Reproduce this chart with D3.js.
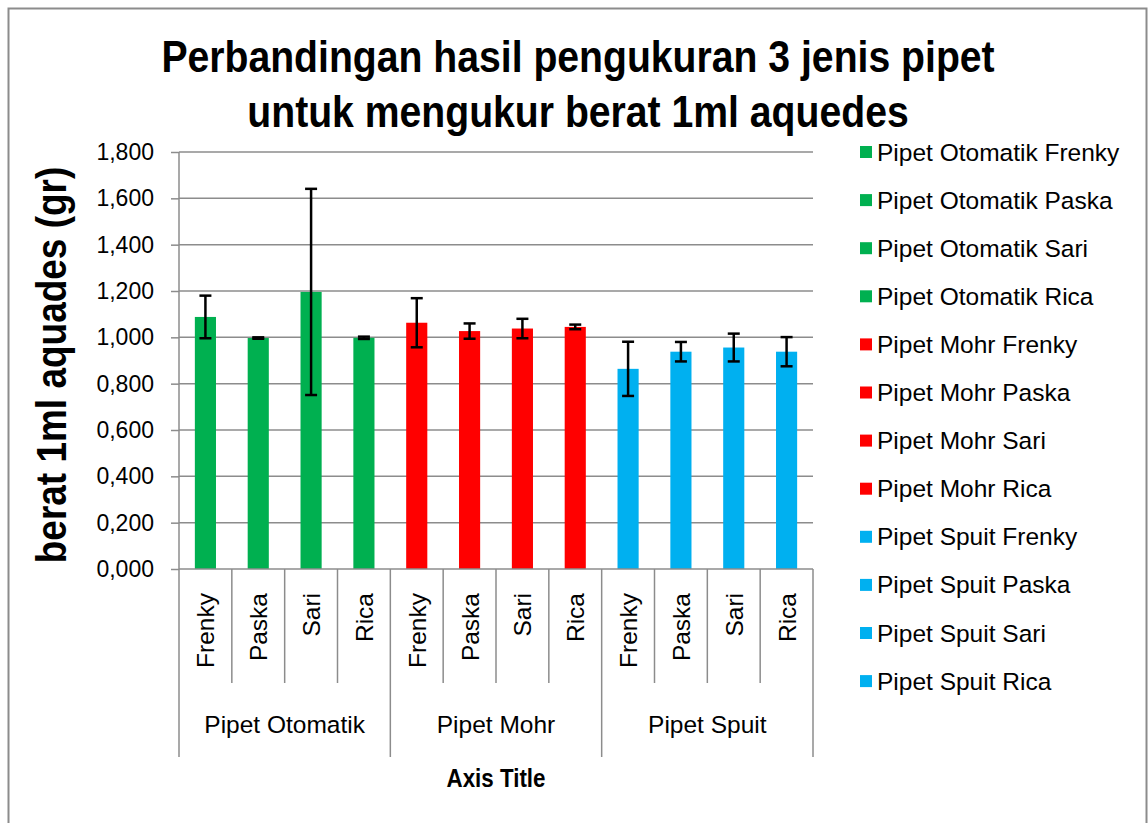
<!DOCTYPE html>
<html>
<head>
<meta charset="utf-8">
<script src="https://cdn.jsdelivr.net/npm/d3@7"></script>
<style>
  body { margin: 0; background: #fff; }
  text { font-family: "Liberation Sans", Arial, sans-serif; }
</style>
</head>
<body>
<div id="chart"></div>
<script>
// data
const groups = ['Pipet Otomatik', 'Pipet Mohr', 'Pipet Spuit']
const people = ['Frenky', 'Paska', 'Sari', 'Rica']
const groupColors = ['#00b050', '#ff0000', '#00b0f0']
const means = [
  [1.088, 0.997, 1.196, 0.998],
  [1.063, 1.027, 1.038, 1.045],
  [0.864, 0.938, 0.956, 0.938]
]
const errs = [
  [0.092, 0.003, 0.445, 0.005],
  [0.106, 0.033, 0.042, 0.010],
  [0.117, 0.042, 0.060, 0.063]
]
const yTicks = [0, 0.2, 0.4, 0.6, 0.8, 1.0, 1.2, 1.4, 1.6, 1.8]

const W = 1148, H = 823
const margin = {top: 152, left: 179, right: 335, bottom: 254}
const width = W - margin.left - margin.right,
      height = H - margin.top - margin.bottom

const svg = d3.select('#chart').append('svg')
  .attr('width', W).attr('height', H)

// chart border
svg.append('rect')
  .attr('x', 8.5).attr('y', 8.5)
  .attr('width', 1138).attr('height', 830)
  .attr('fill', 'none').attr('stroke', '#8c8c8c').attr('stroke-width', 2)

// title (narrow bold look: squeeze horizontally)
svg.append('g').attr('transform', 'translate(578,0) scale(0.88,1)')
  .append('text')
  .attr('text-anchor', 'middle')
  .style('font-weight', 'bold').style('font-size', '44.5px')
  .selectAll('tspan')
  .data(['Perbandingan hasil pengukuran 3 jenis pipet', 'untuk mengukur berat 1ml aquedes'])
  .enter().append('tspan')
    .attr('x', 0)
    .attr('y', (d, i) => 72 + i * 55)
    .text(d => d)

const rows = []
groups.forEach((g, gi) => people.forEach((p, pi) => {
  rows.push({key: g + '|' + p, group: g, name: p, value: means[gi][pi], err: errs[gi][pi]})
}))

const g = svg.append('g').attr('transform', `translate(${margin.left},${margin.top})`)

const x = d3.scaleBand().domain(rows.map(d => d.key)).range([0, width]).paddingInner(0.6).paddingOuter(0.3)
const y = d3.scaleLinear().domain([0, 1.8]).range([height, 0])
const color = d3.scaleOrdinal().domain(groups).range(groupColors)
const fmtTick = v => {
  const s = v.toFixed(3).split('.')
  return s[0] + ',' + s[1]
}

// gridlines
g.append('g')
  .selectAll('line').data(yTicks.slice(1)).enter().append('line')
    .attr('x1', 0).attr('x2', width)
    .attr('y1', d => y(d)).attr('y2', d => y(d))
    .attr('stroke', '#8c8c8c').attr('stroke-width', 1.5)

// y axis
const yAxis = g.append('g')
  .call(d3.axisLeft(y).tickValues(yTicks).tickSize(8).tickPadding(17).tickFormat(fmtTick))
yAxis.select('.domain').attr('stroke', '#8c8c8c').attr('stroke-width', 1.5).attr('d', `M0,0V${height}`)
yAxis.selectAll('.tick line').attr('stroke', '#8c8c8c').attr('stroke-width', 1.5)
yAxis.selectAll('.tick text').style('font-size', '23px').attr('fill', '#000')
  .style('font-family', '"Liberation Sans", Arial, sans-serif')

// bars
g.selectAll('.bar').data(rows).enter().append('rect')
  .attr('x', d => x(d.key))
  .attr('y', d => y(d.value))
  .attr('width', x.bandwidth())
  .attr('height', d => height - y(d.value))
  .attr('fill', d => color(d.group))

// error bars
const eb = g.selectAll('.err').data(rows).enter().append('g')
  .attr('stroke', '#000').attr('stroke-width', 2.5)
eb.append('line')
  .attr('x1', d => x(d.key) + x.bandwidth() / 2).attr('x2', d => x(d.key) + x.bandwidth() / 2)
  .attr('y1', d => y(d.value + d.err)).attr('y2', d => y(d.value - d.err))
eb.selectAll('.cap').data(d => [d.value + d.err, d.value - d.err].map(v => ({d: d, v: v})))
  .enter().append('line')
    .attr('x1', c => x(c.d.key) + x.bandwidth() / 2 - 6)
    .attr('x2', c => x(c.d.key) + x.bandwidth() / 2 + 6)
    .attr('y1', c => y(c.v)).attr('y2', c => y(c.v))

// category axis (two levels)
const cat = g.append('g').attr('transform', `translate(0,${height})`)
cat.append('line').attr('x1', 0).attr('x2', width).attr('y1', 0).attr('y2', 0)
  .attr('stroke', '#8c8c8c').attr('stroke-width', 1.5)
// dividers between categories
d3.range(rows.length + 1).forEach(i => {
  const xp = i * width / rows.length
  const major = i % people.length === 0
  cat.append('line')
    .attr('x1', xp).attr('x2', xp).attr('y1', 0).attr('y2', major ? 188 : 114)
    .attr('stroke', '#8c8c8c').attr('stroke-width', 1.5)
})
cat.selectAll('.catlab').data(rows).enter().append('text')
  .attr('transform', d => `translate(${x(d.key) + x.bandwidth() / 2 + 9},24) rotate(-90)`)
  .attr('text-anchor', 'end')
  .style('font-size', '24.5px')
  .text(d => d.name)
cat.selectAll('.grplab').data(groups).enter().append('text')
  .attr('x', (d, i) => (i + 0.5) * width / groups.length)
  .attr('y', 164)
  .attr('text-anchor', 'middle')
  .style('font-size', '24.5px')
  .text(d => d)

// axis titles
svg.append('g').attr('transform', `translate(${margin.left + width / 2},787) scale(0.86,1)`)
  .append('text')
  .attr('text-anchor', 'middle')
  .style('font-weight', 'bold').style('font-size', '26px')
  .text('Axis Title')
svg.append('g').attr('transform', 'translate(66,365) rotate(-90) scale(0.86,1)')
  .append('text')
  .attr('text-anchor', 'middle')
  .style('font-weight', 'bold').style('font-size', '43px')
  .text('berat 1ml aquades (gr)')

// legend
const legend = svg.append('g').attr('transform', 'translate(860,152)')
const li = legend.selectAll('.li').data(rows).enter().append('g')
  .attr('transform', (d, i) => `translate(0,${i * 48.1})`)
li.append('rect').attr('x', 0).attr('y', -6).attr('width', 12).attr('height', 12)
  .attr('fill', d => color(d.group))
li.append('text').attr('x', 17).attr('y', 0).attr('dy', '0.35em')
  .style('font-size', '24.5px')
  .text(d => d.group + ' ' + d.name)
</script>
</body>
</html>
